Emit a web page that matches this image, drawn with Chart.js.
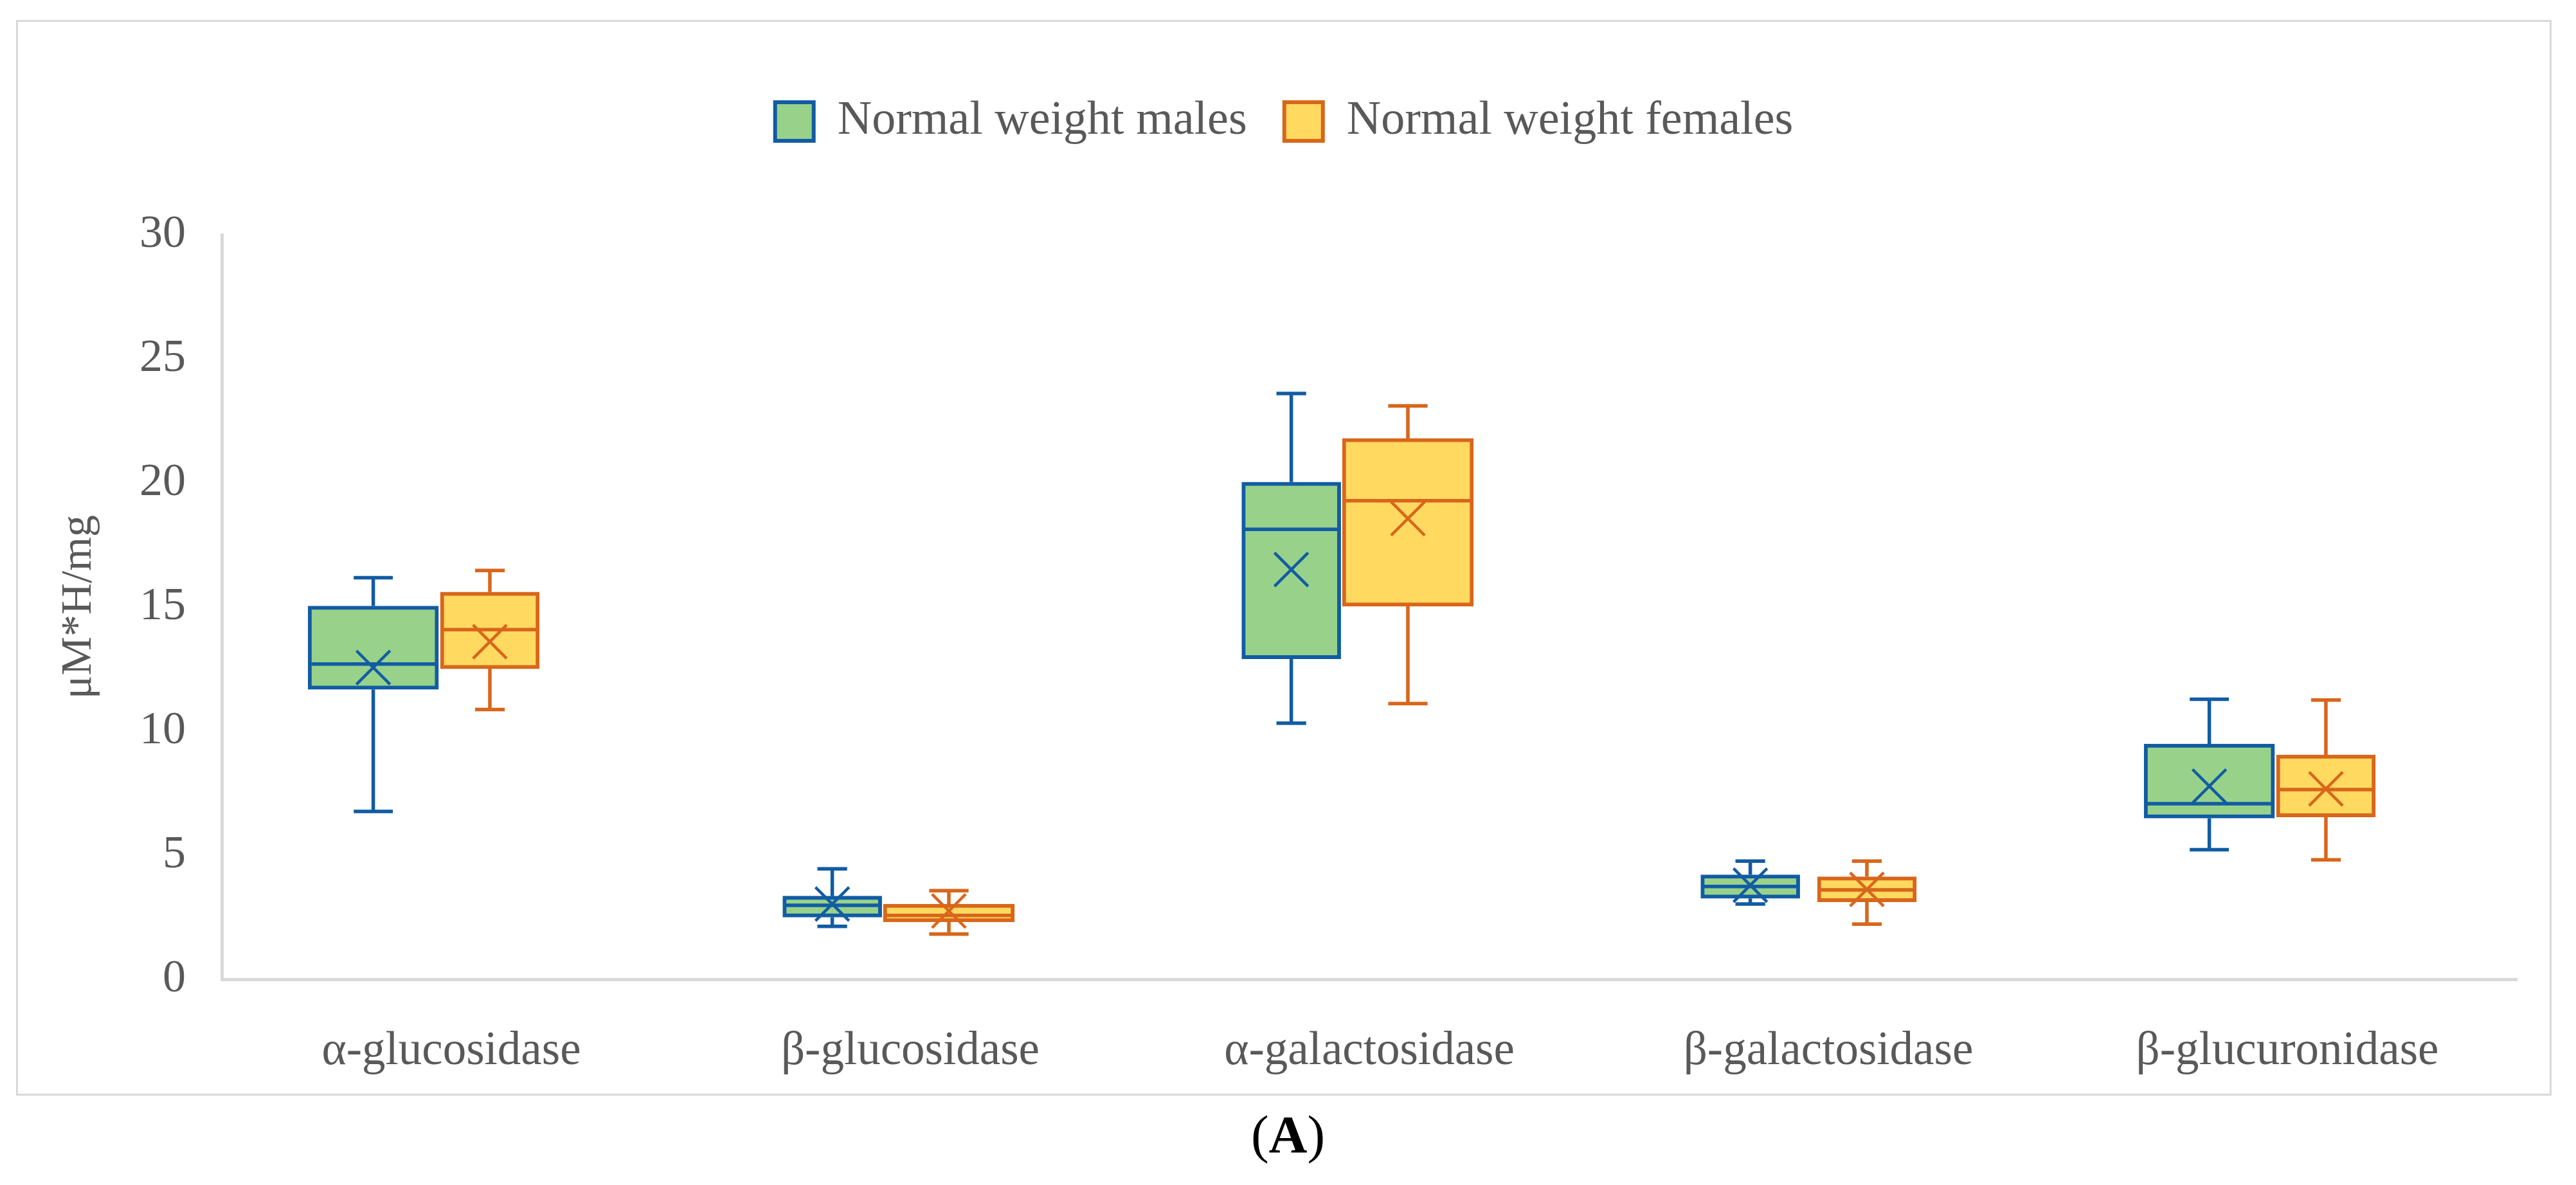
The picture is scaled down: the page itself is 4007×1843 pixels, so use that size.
<!DOCTYPE html>
<html>
<head>
<meta charset="utf-8">
<script src="https://cdn.jsdelivr.net/npm/chart.js@4.4.1/dist/chart.umd.min.js"></script>
<style>
  html, body { margin: 0; padding: 0; background: #ffffff; }
  body { width: 4007px; height: 1843px; position: relative; overflow: hidden; }
  #frame {
    position: absolute; left: 25px; top: 31px;
    width: 3938px; height: 1667px;
    border: 3px solid #d9d9d9;
  }
  #chart { position: absolute; left: 0; top: 0; }
  #caption {
    position: absolute; left: 0; top: 1723px; width: 4007px;
    text-align: center; font-family: 'Times New Roman', 'Liberation Serif', serif;
    font-size: 83px; line-height: 1; color: #000000;
  }
</style>
</head>
<body>
<div id="frame"></div>
<canvas id="chart" width="4007" height="1843"></canvas>
<div id="caption">(<b>A</b>)</div>
<script>
const categories = ["α-glucosidase", "β-glucosidase", "α-galactosidase", "β-galactosidase", "β-glucuronidase"];

const maleMin = [6.76, 2.13, 10.32, 3.03, 5.22];
const maleQ1 = [11.68, 2.5, 12.91, 3.26, 6.49];
const maleMedian = [12.7, 2.98, 18.13, 3.74, 7.07];
const maleQ3 = [15.04, 3.35, 20.03, 4.21, 9.48];
const maleMax = [16.18, 4.45, 23.6, 4.76, 11.28];
const maleMean = [12.56, 3.03, 16.51, 3.79, 7.78];

const femaleMin = [10.87, 1.82, 11.11, 2.22, 4.81];
const femaleQ1 = [12.51, 2.31, 15.03, 3.12, 6.54];
const femaleMedian = [14.09, 2.57, 19.28, 3.6, 7.64];
const femaleQ3 = [15.6, 3.03, 21.79, 4.13, 9.04];
const femaleMax = [16.47, 3.57, 23.1, 4.76, 11.25];
const femaleMean = [13.6, 2.75, 18.56, 3.62, 7.67];

const FONT = "'Times New Roman', 'Liberation Serif', serif";
const TEXT = "#595959";

const males = {
  label: "Normal weight males",
  min: maleMin, q1: maleQ1, median: maleMedian, q3: maleQ3, max: maleMax, mean: maleMean,
  fill: "#98d28a", line: "#115ca3", shift: -0.17, order: 2,
  wide: [0, 4],
};
const females = {
  label: "Normal weight females",
  min: femaleMin, q1: femaleQ1, median: femaleMedian, q3: femaleQ3, max: femaleMax, mean: femaleMean,
  fill: "#ffd960", line: "#d8661b", shift: 0.084, order: 1,
  wide: [1, 2],
};

// excel drew some boxes wider than others, so each series gets a wide and a narrow set
function boxSet(s, idxs, thickness, inLegend) {
  return {
    type: "bar",
    label: s.label,
    inLegend: inLegend,
    data: idxs.map((i) => ({ x: i + 0.5 + s.shift, y: [s.q1[i], s.q3[i]] })),
    stats: idxs.map((i) => ({ min: s.min[i], median: s.median[i], max: s.max[i] })),
    backgroundColor: s.fill,
    borderColor: s.line,
    borderWidth: 6,
    borderSkipped: false,
    barThickness: thickness,
    grouped: false,
    order: s.order,
  };
}
function meanSet(s) {
  return {
    type: "scatter",
    label: s.label + " mean",
    data: categories.map((c, i) => ({ x: i + 0.5 + s.shift, y: s.mean[i] })),
    pointStyle: "crossRot",
    pointRadius: 37,
    pointBorderWidth: 4.5,
    borderColor: s.line,
    backgroundColor: "rgba(0,0,0,0)",
    showLine: false,
    order: 0,
  };
}
function split(s) {
  const all = categories.map((c, i) => i);
  return {
    wide: all.filter((i) => s.wide.includes(i)),
    narrow: all.filter((i) => !s.wide.includes(i)),
  };
}

const mSplit = split(males);
const fSplit = split(females);
const datasets = [
  boxSet(males, mSplit.wide, 203, true),
  boxSet(males, mSplit.narrow, 154, false),
  boxSet(females, fSplit.wide, 204, true),
  boxSet(females, fSplit.narrow, 154, false),
  meanSet(males),
  meanSet(females),
];

const whiskers = {
  id: "whiskers",
  afterDatasetDraw(chart, args) {
    const ds = chart.data.datasets[args.index];
    if (!ds.stats) return;
    const yScale = chart.scales.y;
    const ctx = chart.ctx;
    ctx.save();
    ctx.strokeStyle = ds.borderColor;
    ctx.lineWidth = 5.5;
    args.meta.data.forEach((bar, j) => {
      const s = ds.stats[j];
      const { x, width } = bar.getProps(["x", "width"], true);
      const yMin = yScale.getPixelForValue(s.min);
      const yMax = yScale.getPixelForValue(s.max);
      const yLow = yScale.getPixelForValue(ds.data[j].y[0]);
      const yHigh = yScale.getPixelForValue(ds.data[j].y[1]);
      const yMed = yScale.getPixelForValue(s.median);
      const cap = (width * 0.3) / 2;
      ctx.beginPath();
      ctx.moveTo(x, yHigh); ctx.lineTo(x, yMax);
      ctx.moveTo(x - cap, yMax); ctx.lineTo(x + cap, yMax);
      ctx.moveTo(x, yLow); ctx.lineTo(x, yMin);
      ctx.moveTo(x - cap, yMin); ctx.lineTo(x + cap, yMin);
      ctx.moveTo(x - width / 2 + 3, yMed); ctx.lineTo(x + width / 2 - 3, yMed);
      ctx.stroke();
    });
    ctx.restore();
  },
};

// leave empty room under the legend so the plot starts lower
const legendGap = {
  id: "legendGap",
  beforeLayout(chart) {
    const legend = chart.legend;
    if (!legend || legend._gapped) return;
    const fit = legend.fit;
    legend.fit = function () {
      fit.call(this);
      this.height += 129;
    };
    legend._gapped = true;
  },
};

Chart.defaults.font.family = FONT;
Chart.defaults.color = TEXT;

const ctx = document.getElementById("chart").getContext("2d");
const chart = new Chart(ctx, {
  type: "bar",
  data: { datasets: datasets },
  plugins: [whiskers, legendGap],
  options: {
    responsive: false,
    devicePixelRatio: 1,
    animation: false,
    events: [],
    layout: { padding: { top: 94, left: 80, right: 92, bottom: 0 } },
    plugins: {
      tooltip: { enabled: false },
      legend: {
        position: "top",
        labels: {
          color: TEXT,
          font: { family: FONT, size: 74 },
          boxWidth: 60,
          boxHeight: 60,
          padding: 58,
          filter: (item, data) => data.datasets[item.datasetIndex].inLegend,
          sort: (a, b) => a.datasetIndex - b.datasetIndex,
        },
      },
    },
    scales: {
      x: {
        type: "linear",
        min: 0,
        max: categories.length,
        offset: false,
        afterBuildTicks: (scale) => {
          scale.ticks = categories.map((c, i) => ({ value: i + 0.5 }));
        },
        ticks: {
          callback: (v) => categories[Math.floor(v)],
          autoSkip: false,
          maxRotation: 0,
          padding: 69,
          color: TEXT,
          font: { family: FONT, size: 73 },
        },
        grid: { display: false, drawTicks: false },
        border: { display: true, color: "#d9d9d9", width: 5 },
        afterFit: (scale) => {
          scale.height = 320;
          scale.paddingLeft = 0;
          scale.paddingRight = 0;
        },
      },
      y: {
        min: 0,
        max: 30,
        ticks: {
          stepSize: 5,
          padding: 56,
          color: TEXT,
          font: { family: FONT, size: 72 },
        },
        grid: { display: false, drawTicks: false },
        border: { display: true, color: "#d9d9d9", width: 5 },
        title: {
          display: true,
          text: "μM*H/mg",
          color: TEXT,
          font: { family: FONT, size: 68, lineHeight: 1 },
          padding: { top: 9, bottom: 0 },
        },
        afterFit: (scale) => {
          scale.width = 265;
          scale.paddingTop = 365;
        },
      },
    },
  },
});
</script>
</body>
</html>
